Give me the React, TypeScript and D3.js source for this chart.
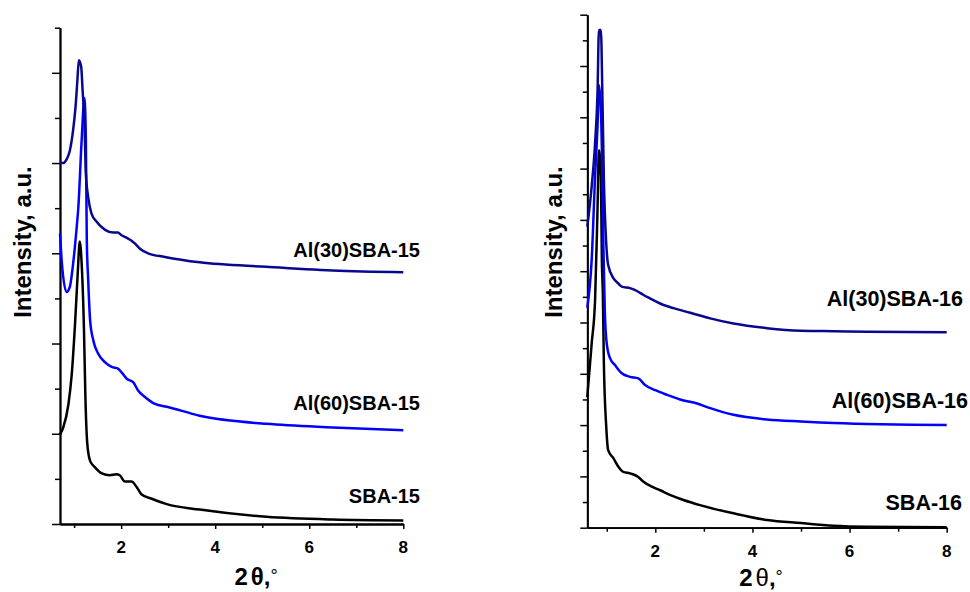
import React, { useEffect, useRef } from 'react';
import * as d3 from 'd3';

// SBA-15 series: 2θ (deg) and offset intensity (a.u.)
const sba15X = [0.7, 0.77, 0.88, 0.95, 1.02, 1.08, 1.12, 1.16, 1.21, 1.24, 1.28, 1.34, 1.44, 1.59, 1.76, 1.9, 1.97, 2.08, 2.22, 2.33, 2.43, 2.65, 2.97, 3.67, 5.09, 6.5, 8.0];
const sba15Y = [0.99, 1.07, 1.33, 1.66, 2.22, 2.81, 3.13, 2.89, 2.15, 1.41, 0.89, 0.7, 0.63, 0.56, 0.54, 0.55, 0.54, 0.47, 0.47, 0.41, 0.33, 0.28, 0.22, 0.16, 0.08, 0.05, 0.04];

const al60sba15X = [0.7, 0.74, 0.84, 0.91, 0.98, 1.05, 1.09, 1.16, 1.22, 1.25, 1.27, 1.3, 1.34, 1.41, 1.51, 1.66, 1.8, 1.94, 2.01, 2.12, 2.26, 2.36, 2.5, 2.72, 2.97, 3.67, 5.09, 6.5, 8.0];
const al60sba15Y = [3.22, 2.89, 2.57, 2.63, 2.89, 3.26, 3.51, 4.25, 4.72, 4.25, 3.14, 2.7, 2.26, 2.03, 1.89, 1.79, 1.74, 1.72, 1.68, 1.61, 1.57, 1.48, 1.41, 1.33, 1.3, 1.2, 1.11, 1.07, 1.04];

const al30sba15X = [0.7, 0.77, 0.84, 0.91, 0.98, 1.03, 1.07, 1.1, 1.15, 1.18, 1.22, 1.25, 1.3, 1.37, 1.48, 1.66, 1.83, 1.93, 2.01, 2.12, 2.22, 2.29, 2.4, 2.57, 2.93, 3.67, 5.09, 6.5, 8.0];
const al30sba15Y = [4.0, 4.0, 4.04, 4.14, 4.37, 4.62, 4.92, 5.14, 5.07, 4.81, 4.44, 3.89, 3.62, 3.44, 3.35, 3.26, 3.23, 3.23, 3.2, 3.17, 3.14, 3.11, 3.05, 3.0, 2.96, 2.9, 2.85, 2.81, 2.79];

// SBA-16 series
const sba16X = [0.6, 0.69, 0.76, 0.81, 0.84, 0.88, 0.9, 0.92, 0.94, 0.99, 1.03, 1.14, 1.24, 1.34, 1.48, 1.65, 1.75, 1.93, 2.1, 2.3, 2.58, 2.92, 3.61, 4.3, 5.0, 5.67, 6.36, 8.0];
const sba16Y = [2.55, 3.59, 4.44, 6.19, 7.36, 6.84, 5.22, 4.57, 3.27, 1.97, 1.51, 1.35, 1.19, 1.09, 1.06, 0.99, 0.9, 0.8, 0.73, 0.64, 0.54, 0.44, 0.28, 0.15, 0.09, 0.04, 0.02, 0.01];

const al60sba16X = [0.6, 0.69, 0.76, 0.81, 0.84, 0.88, 0.91, 0.93, 0.96, 1.0, 1.07, 1.17, 1.31, 1.48, 1.65, 1.79, 2.0, 2.24, 2.51, 2.86, 3.13, 3.61, 4.3, 5.0, 5.67, 8.0];
const al60sba16Y = [4.29, 5.22, 6.84, 7.82, 8.63, 8.14, 6.84, 5.55, 4.24, 3.59, 3.3, 3.17, 3.01, 2.94, 2.91, 2.78, 2.68, 2.59, 2.5, 2.42, 2.33, 2.2, 2.11, 2.07, 2.04, 2.0];

const al30sba16X = [0.6, 0.69, 0.76, 0.81, 0.84, 0.88, 0.91, 0.94, 0.99, 1.03, 1.14, 1.24, 1.31, 1.48, 1.65, 1.75, 1.89, 2.1, 2.37, 2.72, 3.13, 3.61, 4.3, 5.0, 5.67, 6.36, 8.0];
const al30sba16Y = [5.87, 6.65, 7.49, 8.47, 9.7, 9.7, 8.47, 6.84, 5.54, 5.12, 4.86, 4.76, 4.7, 4.67, 4.6, 4.54, 4.47, 4.37, 4.28, 4.19, 4.08, 3.98, 3.89, 3.84, 3.83, 3.82, 3.81];

const xTickLabels = [2, 4, 6, 8];
const xMinorTicks = [1, 3, 5, 7];

const FONT = '"Liberation Sans", Arial, Helvetica, sans-serif';
const NAVY = '#08088f';
const BLUE = '#0000ff';

const toPoints = (xs, ys) => xs.map((v, i) => [v, ys[i]]);

const drawPanel = (svg, p) => {
  const x = d3.scaleLinear().domain(p.xDomain).range([p.left, p.right]);
  const y = d3.scaleLinear().domain(p.yDomain).range([p.bottom, p.top]);
  const g = svg.append('g');

  // y axis: long major ticks, shorter minor ones, no labels
  const yMajor = d3.range(p.yDomain[0], p.yDomain[1] + 0.01, 1);
  const yMinor = d3.range(p.yDomain[0] + 0.5, p.yDomain[1] + 0.01, 1);
  g.append('g')
    .attr('transform', `translate(${p.left},0)`)
    .call(d3.axisLeft(y).tickValues(yMajor).tickSize(p.majorLen).tickSizeOuter(0).tickFormat(() => ''));
  g.append('g')
    .attr('transform', `translate(${p.left},0)`)
    .call(d3.axisLeft(y).tickValues(yMinor).tickSize(p.minorLen).tickSizeOuter(0).tickFormat(() => ''));

  // x axis
  g.append('g')
    .attr('transform', `translate(0,${p.bottom})`)
    .call(d3.axisBottom(x).tickValues(xTickLabels).tickSize(5).tickSizeOuter(0).tickFormat(() => ''));
  g.append('g')
    .attr('transform', `translate(0,${p.bottom})`)
    .call(d3.axisBottom(x).tickValues(xMinorTicks).tickSize(4).tickSizeOuter(0).tickFormat(() => ''));

  g.selectAll('.domain').attr('stroke', '#000').attr('stroke-width', 1.8);
  g.selectAll('.tick line').attr('stroke', '#000').attr('stroke-width', 1.5);

  g.selectAll('text.xlab')
    .data(xTickLabels)
    .enter()
    .append('text')
    .attr('class', 'xlab')
    .attr('x', d => x(d))
    .attr('y', p.bottom + 29)
    .attr('text-anchor', 'middle')
    .attr('font-family', FONT)
    .attr('font-weight', 'bold')
    .attr('font-size', 17)
    .text(d => d);

  // curves
  const line = d3.line().x(d => x(d[0])).y(d => y(d[1])).curve(d3.curveMonotoneX);
  p.series.forEach(s => {
    g.append('path')
      .attr('d', line(toPoints(s.xs, s.ys)))
      .attr('fill', 'none')
      .attr('stroke', s.color)
      .attr('stroke-width', 2.5)
      .attr('stroke-linejoin', 'round');
    g.append('text')
      .attr('x', s.labelX)
      .attr('y', s.labelY)
      .attr('text-anchor', 'end')
      .attr('font-family', FONT)
      .attr('font-weight', 'bold')
      .attr('font-size', p.labelSize)
      .text(s.name);
  });

  // axis titles
  g.append('text')
    .attr('transform', `translate(${p.yTitleX},${p.yTitleY}) rotate(-90)`)
    .attr('text-anchor', 'middle')
    .attr('font-family', FONT)
    .attr('font-weight', 'bold')
    .attr('font-size', 24)
    .text('Intensity, a.u.');

  const t = g.append('text')
    .attr('x', p.xTitleX)
    .attr('y', p.xTitleY)
    .attr('text-anchor', 'middle')
    .attr('font-family', FONT)
    .attr('font-weight', 'bold')
    .attr('font-size', 24);
  t.append('tspan').text('2');
  t.append('tspan').attr('dx', 3).attr('font-weight', p.thetaWeight).text('θ');
  t.append('tspan').text(',');
  t.append('tspan').attr('font-weight', 'normal').attr('font-size', 18).attr('dy', -3).text('°');
};

const XrdPanels = () => {
  const chartRef = useRef();

  useEffect(() => {
    const svg = d3.select(chartRef.current)
      .append('svg')
      .attr('width', 970)
      .attr('height', 592)
      .style('position', 'absolute')
      .style('left', 0)
      .style('top', 0)
      .style('background', '#fff');

    drawPanel(svg, {
      xDomain: [0.7, 8], yDomain: [0, 5.5],
      left: 60, right: 403.3, top: 27.7, bottom: 524,
      majorLen: 8, minorLen: 5, labelSize: 20,
      yTitleX: 31, yTitleY: 242, xTitleX: 256, xTitleY: 585, thetaWeight: 'bold',
      series: [
        { name: 'SBA-15', xs: sba15X, ys: sba15Y, color: '#000', labelX: 420, labelY: 503 },
        { name: 'Al(60)SBA-15', xs: al60sba15X, ys: al60sba15Y, color: BLUE, labelX: 420, labelY: 410 },
        { name: 'Al(30)SBA-15', xs: al30sba15X, ys: al30sba15Y, color: NAVY, labelX: 420, labelY: 257 },
      ],
    });

    drawPanel(svg, {
      xDomain: [0.6, 8], yDomain: [0, 10],
      left: 587.3, right: 946.7, top: 14.7, bottom: 527.7,
      majorLen: 7, minorLen: 4.5, labelSize: 21.5,
      yTitleX: 562, yTitleY: 242, xTitleX: 761, xTitleY: 586, thetaWeight: 'normal',
      series: [
        { name: 'SBA-16', xs: sba16X, ys: sba16Y, color: '#000', labelX: 962, labelY: 510 },
        { name: 'Al(60)SBA-16', xs: al60sba16X, ys: al60sba16Y, color: BLUE, labelX: 968, labelY: 408 },
        { name: 'Al(30)SBA-16', xs: al30sba16X, ys: al30sba16Y, color: NAVY, labelX: 963, labelY: 306 },
      ],
    });

    return () => {
      d3.select(chartRef.current).selectAll('*').remove();
    };
  }, []);

  return <div ref={chartRef}></div>;
};

export default function App() {
  return <XrdPanels />;
}
